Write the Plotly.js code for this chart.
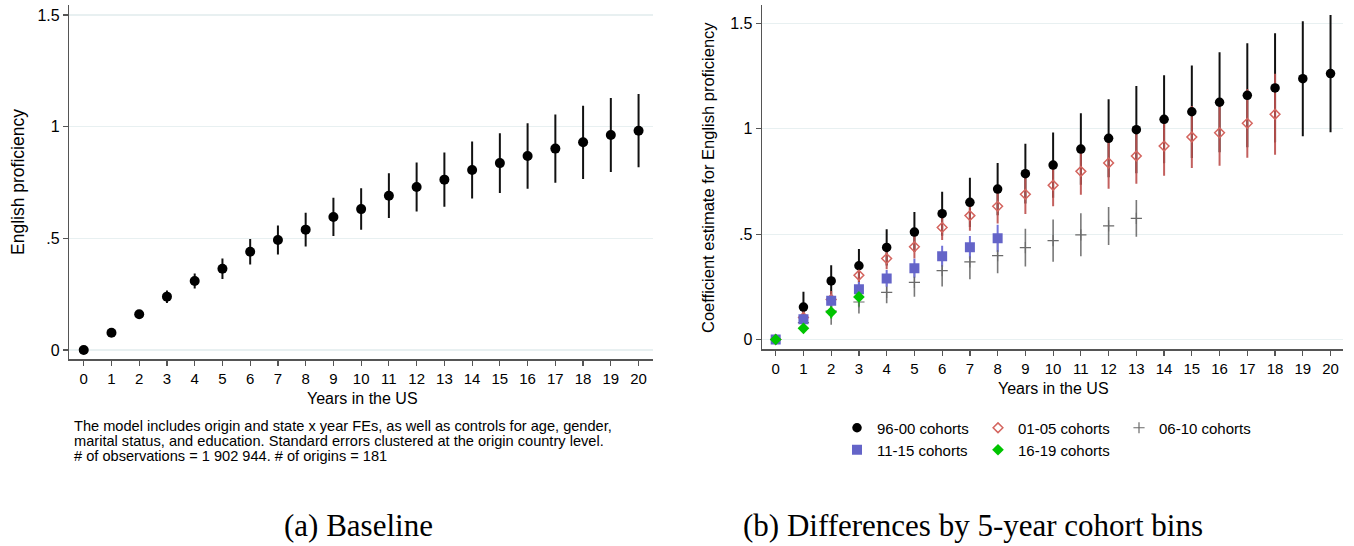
<!DOCTYPE html>
<html>
<head>
<meta charset="utf-8">
<script src="https://cdn.plot.ly/plotly-3.0.1.min.js"></script>
<style>html,body{margin:0;padding:0;background:#fff;}#chart{width:1354px;height:546px;}</style>
</head>
<body>
<div id="chart"></div>
<script>
// ---------- DATA ----------
const years = [0,1,2,3,4,5,6,7,8,9,10,11,12,13,14,15,16,17,18,19,20];
const xTickLabels = ["0","1","2","3","4","5","6","7","8","9","10","11","12","13","14","15","16","17","18","19","20"];
const yTickVals = [0, 0.5, 1, 1.5];
const yTickLabels = ["0", ".5", "1", "1.5"];

// (a) Baseline
const baseCoef = [0, 0.077, 0.160, 0.239, 0.309, 0.364, 0.440, 0.493, 0.539, 0.596, 0.631, 0.691, 0.730, 0.763, 0.806, 0.837, 0.869, 0.902, 0.930, 0.963, 0.982];
const baseErr  = [0, 0.008, 0.012, 0.028, 0.034, 0.046, 0.057, 0.065, 0.076, 0.086, 0.093, 0.100, 0.110, 0.122, 0.128, 0.134, 0.147, 0.153, 0.164, 0.166, 0.164];

// (b) cohort bins
const cohortNames = ["96-00 cohorts", "01-05 cohorts", "06-10 cohorts", "11-15 cohorts", "16-19 cohorts"];
const c9600Coef = [0, 0.154, 0.278, 0.350, 0.437, 0.510, 0.597, 0.651, 0.714, 0.787, 0.828, 0.904, 0.955, 0.996, 1.045, 1.081, 1.126, 1.159, 1.194, 1.238, 1.262];
const c9600Err  = [0, 0.073, 0.074, 0.080, 0.086, 0.095, 0.104, 0.117, 0.124, 0.142, 0.155, 0.170, 0.185, 0.207, 0.209, 0.220, 0.237, 0.247, 0.259, 0.273, 0.278];
const c0105Coef = [0, 0.105, 0.190, 0.305, 0.384, 0.440, 0.532, 0.588, 0.632, 0.689, 0.732, 0.798, 0.838, 0.871, 0.918, 0.961, 0.981, 1.026, 1.069];
const c0105Err  = [0, 0.030, 0.040, 0.045, 0.050, 0.055, 0.060, 0.072, 0.081, 0.093, 0.100, 0.111, 0.122, 0.132, 0.141, 0.147, 0.156, 0.163, 0.192];
const c0610Coef = [0, 0.080, 0.135, 0.178, 0.224, 0.271, 0.327, 0.368, 0.398, 0.436, 0.469, 0.497, 0.539, 0.575];
const c0610Err  = [0, 0.040, 0.065, 0.054, 0.052, 0.068, 0.076, 0.082, 0.084, 0.090, 0.100, 0.102, 0.090, 0.087];
const c1115Coef = [0, 0.096, 0.184, 0.238, 0.290, 0.338, 0.395, 0.438, 0.480];
const c1115Err  = [0, 0.020, 0.030, 0.035, 0.040, 0.045, 0.050, 0.053, 0.065];
const c1619Coef = [0, 0.053, 0.130, 0.202];
const c1619Err  = [0, 0.015, 0.030, 0.045];

const noteLines = [
  "The model includes origin and state x year FEs, as well as controls for age, gender,",
  "marital status, and education. Standard errors clustered at the origin country level.",
  "# of observations = 1 902 944. # of origins = 181"
];
const captionA = "(a) Baseline";
const captionB = "(b) Differences by 5-year cohort bins";
const xTitle = "Years in the US";
const yTitleA = "English proficiency";
const yTitleB = "Coefficient estimate for English proficiency";

// ---------- LAYOUT HELPERS ----------
const W = 1354, H = 546;
const px = v => v / W;
const py = v => 1 - v / H;
const SANS = "Liberation Sans, Arial, sans-serif";
const SERIF = "Liberation Serif, Times New Roman, serif";
const AXIS_COL = "#555555";
const GRID_COL = "#e8f0f1";

function xAxis(domain, range, anchor) {
  return {
    domain: domain, range: range, anchor: anchor,
    tickmode: "array", tickvals: years, ticktext: xTickLabels,
    ticks: "outside", ticklen: 5, tickwidth: 1.2, tickcolor: AXIS_COL,
    showline: true, linecolor: AXIS_COL, linewidth: 1.4,
    showgrid: false, zeroline: false,
    tickfont: {family: SANS, size: 15, color: "#000"}
  };
}
function yAxis(domain, range, anchor) {
  return {
    domain: domain, range: range, anchor: anchor,
    tickmode: "array", tickvals: yTickVals, ticktext: yTickLabels,
    ticks: "outside", ticklen: 5, tickwidth: 1.2, tickcolor: AXIS_COL,
    showline: true, linecolor: AXIS_COL, linewidth: 1.4,
    showgrid: true, gridcolor: GRID_COL, gridwidth: 1.2, zeroline: false,
    tickfont: {family: SANS, size: 16, color: "#000"}
  };
}

function errBar(arr, color, thick) {
  return {type: "data", array: arr, visible: true, thickness: thick, width: 0, color: color};
}

// series spec for panel (b): values + style
const seriesB = [
  {name: cohortNames[0], y: c9600Coef, err: c9600Err, errColor: "#111", errThick: 2, legend: "legend",
   marker: {color: "#000", size: 9.5, symbol: "circle"}},
  {name: cohortNames[1], y: c0105Coef, err: c0105Err, errColor: "rgba(190,82,80,0.92)", errThick: 2, legend: "legend",
   marker: {color: "#d4655f", size: 7.5, symbol: "diamond-open", line: {color: "#d4655f", width: 1.5}}},
  {name: cohortNames[2], y: c0610Coef, err: c0610Err, errColor: "rgba(105,105,105,0.9)", errThick: 1.6, legend: "legend",
   marker: {color: "#6a6a6a", size: 8, symbol: "cross-thin", line: {color: "#6a6a6a", width: 1.2}}},
  {name: cohortNames[3], y: c1115Coef, err: c1115Err, errColor: "#7272d8", errThick: 2, legend: "legend2",
   marker: {color: "#6464c8", size: 10, symbol: "square"}},
  {name: cohortNames[4], y: c1619Coef, err: c1619Err, errColor: "#19b619", errThick: 2, legend: "legend2",
   marker: {color: "#00c400", size: 9, symbol: "diamond"}}
];

const traces = [
  // (a)
  {x: years, y: baseCoef, xaxis: "x", yaxis: "y", type: "scatter", mode: "markers",
   marker: {color: "#000", size: 10, symbol: "circle"},
   error_y: errBar(baseErr, "#111", 2), showlegend: false}
];
// (b) error bars first (under all markers)
seriesB.forEach(s => traces.push({
  x: years.slice(0, s.y.length), y: s.y, xaxis: "x2", yaxis: "y2", type: "scatter", mode: "markers",
  marker: {size: 2, opacity: 0, color: s.marker.color}, showlegend: false,
  error_y: errBar(s.err, s.errColor, s.errThick)
}));
// (b) markers
seriesB.forEach(s => traces.push({
  x: years.slice(0, s.y.length), y: s.y, xaxis: "x2", yaxis: "y2", type: "scatter", mode: "markers",
  name: s.name, legend: s.legend, marker: s.marker
}));

const annotations = [];
function ann(text, x, y, size, opts) {
  annotations.push(Object.assign({
    text: text, xref: "paper", yref: "paper", x: px(x), y: py(y),
    xanchor: "center", yanchor: "middle", showarrow: false,
    font: {family: SANS, size: size, color: "#000"}
  }, opts || {}));
}
ann(yTitleA, 18, 182, 17.5, {textangle: -90});
ann(xTitle, 362, 398, 16);
ann(yTitleB, 708, 178, 16.5, {textangle: -90});
ann(xTitle, 1053, 388, 16);
noteLines.forEach((t, i) => ann(t, 72, 426 + i * 15, 14.6, {xanchor: "left"}));
ann(captionA, 358, 525, 31, {font: {family: SERIF, size: 31, color: "#000"}});
ann(captionB, 973, 525, 31, {font: {family: SERIF, size: 31, color: "#000"}});

const legendCommon = {
  orientation: "h", xref: "paper", yref: "paper", xanchor: "left", yanchor: "middle",
  font: {family: SANS, size: 15, color: "#000"}, bgcolor: "rgba(0,0,0,0)",
  itemwidth: 30, entrywidthmode: "pixels", entrywidth: 96, traceorder: "normal",
  itemclick: false, itemdoubleclick: false
};

const layout = {
  width: W, height: H,
  margin: {l: 0, r: 0, t: 0, b: 0},
  paper_bgcolor: "#fff", plot_bgcolor: "#fff",
  showlegend: true,
  xaxis: xAxis([px(69.3), px(653)], [-0.52, 20.52], "y"),
  yaxis: yAxis([py(359.3), py(5)], [-0.0416, 1.545], "x"),
  xaxis2: xAxis([px(762), px(1343.3)], [-0.494, 20.46], "y2"),
  yaxis2: yAxis([py(349.3), py(5)], [-0.0465, 1.5876], "x2"),
  legend: Object.assign({}, legendCommon, {x: px(837), y: py(428)}),
  legend2: Object.assign({}, legendCommon, {x: px(837), y: py(450)}),
  annotations: annotations
};

Plotly.newPlot("chart", traces, layout, {displayModeBar: false, staticPlot: true});
</script>
</body>
</html>
